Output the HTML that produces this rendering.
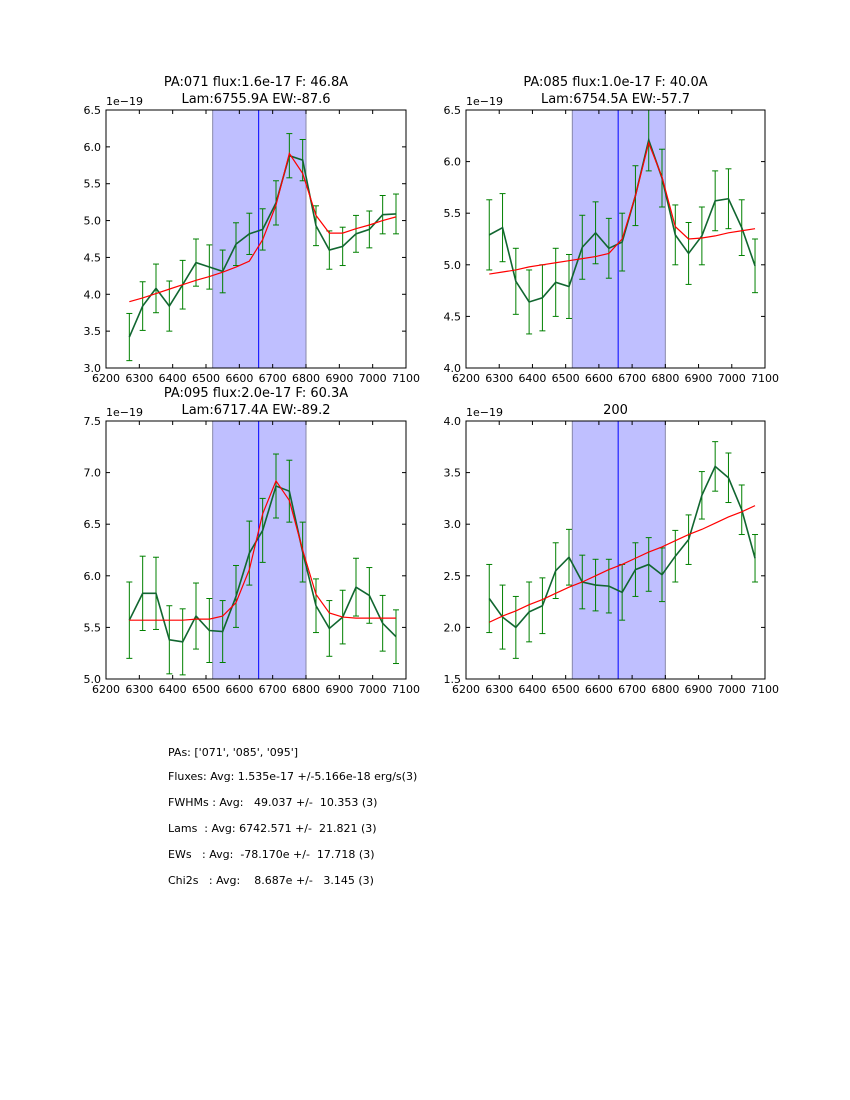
<!DOCTYPE html>
<html><head><meta charset="utf-8"><style>
body{margin:0;background:#fff;width:850px;height:1100px;overflow:hidden;font-family:"DejaVu Sans","Liberation Sans",sans-serif}
svg{position:absolute;left:0;top:0}
.info{position:absolute;left:168px;font-size:11px;white-space:pre;color:#000}
</style></head><body>
<svg id="fig" width="850" height="1100"></svg>
<div class="info" style="top:746px">PAs: ['071', '085', '095']</div>
<div class="info" style="top:770px">Fluxes: Avg: 1.535e-17 +/-5.166e-18 erg/s(3)</div>
<div class="info" style="top:796px">FWHMs : Avg:   49.037 +/-  10.353 (3)</div>
<div class="info" style="top:822px">Lams  : Avg: 6742.571 +/-  21.821 (3)</div>
<div class="info" style="top:848px">EWs   : Avg:  -78.170e +/-  17.718 (3)</div>
<div class="info" style="top:874px">Chi2s   : Avg:    8.687e +/-   3.145 (3)</div>
<script>
const wave=[6270,6310,6350,6390,6430,6470,6510,6550,6590,6630,6670,6710,6750,6790,6830,6870,6910,6950,6990,7030,7070];
const xTicks=[6200,6300,6400,6500,6600,6700,6800,6900,7000,7100];
const spanLo=6520, spanHi=6800, lineCenter=6658;
const flux1=[3.42,3.84,4.08,3.84,4.13,4.43,4.37,4.31,4.68,4.82,4.88,5.24,5.88,5.82,4.93,4.60,4.65,4.82,4.88,5.08,5.09];
const err1=[0.32,0.33,0.33,0.34,0.33,0.32,0.30,0.29,0.29,0.28,0.28,0.30,0.30,0.28,0.27,0.26,0.26,0.25,0.25,0.26,0.27];
const fit1=[3.90,3.95,4.01,4.07,4.13,4.19,4.24,4.30,4.37,4.45,4.74,5.21,5.91,5.64,5.07,4.83,4.83,4.89,4.94,5.00,5.05];
const flux2=[5.29,5.36,4.84,4.64,4.68,4.83,4.79,5.17,5.31,5.16,5.22,5.67,6.21,5.84,5.29,5.11,5.28,5.62,5.64,5.36,4.99];
const err2=[0.34,0.33,0.32,0.31,0.32,0.33,0.31,0.31,0.30,0.29,0.28,0.29,0.30,0.28,0.29,0.30,0.28,0.29,0.29,0.27,0.26];
const fit2=[4.91,4.93,4.95,4.98,5.00,5.02,5.04,5.06,5.08,5.11,5.25,5.67,6.18,5.85,5.37,5.25,5.26,5.28,5.31,5.33,5.35];
const flux3=[5.57,5.83,5.83,5.38,5.36,5.61,5.47,5.46,5.80,6.22,6.44,6.87,6.82,6.23,5.71,5.49,5.60,5.89,5.81,5.54,5.41];
const err3=[0.37,0.36,0.35,0.33,0.32,0.32,0.31,0.30,0.30,0.31,0.31,0.31,0.30,0.29,0.26,0.27,0.26,0.28,0.27,0.27,0.26];
const fit3=[5.57,5.57,5.57,5.57,5.57,5.58,5.58,5.61,5.74,6.06,6.60,6.92,6.73,6.25,5.82,5.64,5.60,5.59,5.59,5.59,5.59];
const flux4=[2.28,2.10,2.00,2.15,2.21,2.55,2.68,2.44,2.41,2.40,2.34,2.56,2.61,2.51,2.69,2.85,3.28,3.56,3.45,3.14,2.67];
const err4=[0.33,0.31,0.30,0.29,0.27,0.27,0.27,0.26,0.25,0.26,0.27,0.26,0.26,0.26,0.25,0.24,0.23,0.24,0.24,0.24,0.23];
const fit4=[2.05,2.11,2.16,2.22,2.27,2.33,2.39,2.44,2.50,2.56,2.61,2.67,2.73,2.78,2.84,2.90,2.95,3.01,3.07,3.12,3.18];
const yTicks1=["3.0","3.5","4.0","4.5","5.0","5.5","6.0","6.5"];
const yTicks2=["4.0","4.5","5.0","5.5","6.0","6.5"];
const yTicks3=["5.0","5.5","6.0","6.5","7.0","7.5"];
const yTicks4=["1.5","2.0","2.5","3.0","3.5","4.0"];
const NS="http://www.w3.org/2000/svg";
const svg=document.getElementById('fig');
function mk(tag,attrs,parent){const e=document.createElementNS(NS,tag);for(const k in attrs)e.setAttribute(k,attrs[k]);(parent||svg).appendChild(e);return e;}
function panel(id,L,T,W,H,yt,flux,err,fit,titles){
  const g=mk('g',{});
  
  
  const ymin=parseFloat(yt[0]),ymax=parseFloat(yt[yt.length-1]);
  const X=v=>L+(v-6200)/900*W, Y=v=>T+H-(v-ymin)/(ymax-ymin)*H;
  const cp='cp'+id;const c=mk('clipPath',{id:cp},g);mk('rect',{x:L,y:T,width:W,height:H},c);
  const sp=mk('rect',{x:X(spanLo),y:T,width:X(spanHi)-X(spanLo),height:H,fill:'#bfbfff',stroke:'#8888aa','stroke-width':1},g);
  
  
  const vl=mk('line',{x1:X(lineCenter),x2:X(lineCenter),y1:T,y2:T+H,stroke:'#0000ff','stroke-width':1},g);
  
  
  const eg=mk('g',{'clip-path':'url(#'+cp+')'},g);
  
  
  wave.forEach((w,i)=>{const x=X(w),y1=Y(flux[i]-err[i]),y2=Y(flux[i]+err[i]);
    mk('line',{x1:x,x2:x,y1:y1,y2:y2,stroke:'#008000','stroke-width':1},eg);
    mk('line',{x1:x-3,x2:x+3,y1:y1,y2:y1,stroke:'#008000','stroke-width':1},eg);
    mk('line',{x1:x-3,x2:x+3,y1:y2,y2:y2,stroke:'#008000','stroke-width':1},eg);});
  const dl=mk('polyline',{points:wave.map((w,i)=>X(w)+','+Y(flux[i])).join(' '),fill:'none',stroke:'#116630','stroke-width':1.6,'clip-path':'url(#'+cp+')'},g);
  
  
  const fl=mk('polyline',{points:wave.map((w,i)=>X(w)+','+Y(fit[i])).join(' '),fill:'none',stroke:'#ff0000','stroke-width':1.2,'clip-path':'url(#'+cp+')'},g);
  
  
  mk('rect',{x:L,y:T,width:W,height:H,fill:'none',stroke:'#000','stroke-width':1},g);
  xTicks.forEach(v=>{const x=X(v);
    mk('line',{x1:x,x2:x,y1:T+H,y2:T+H-4,stroke:'#000'},g);mk('line',{x1:x,x2:x,y1:T,y2:T+4,stroke:'#000'},g);
    const t=mk('text',{x:x,y:T+H+14,'font-size':11,'text-anchor':'middle'},g);t.textContent=v;
    
    });
  yt.forEach(s=>{const y=Y(parseFloat(s));
    mk('line',{x1:L,x2:L+4,y1:y,y2:y,stroke:'#000'},g);mk('line',{x1:L+W,x2:L+W-4,y1:y,y2:y,stroke:'#000'},g);
    const t=mk('text',{x:L-5,y:y+4,'font-size':11,'text-anchor':'end'},g);t.textContent=s;
    
    });
  const ex=mk('text',{x:L,y:T-5,'font-size':11},g);ex.textContent='1e\u221219';
  
  
  titles.forEach((s,i)=>{const t=mk('text',{x:L+W/2,y:T-24+i*17+(titles.length==1?17:0),'font-size':13,'text-anchor':'middle'},g);t.textContent=s;
    
    });
}
panel('panel-pa071',106,110,300,258,yTicks1,flux1,err1,fit1,['PA:071 flux:1.6e-17 F: 46.8A','Lam:6755.9A EW:-87.6']);
panel('panel-pa085',466,110,299,258,yTicks2,flux2,err2,fit2,['PA:085 flux:1.0e-17 F: 40.0A','Lam:6754.5A EW:-57.7']);
panel('panel-pa095',106,421,300,258,yTicks3,flux3,err3,fit3,['PA:095 flux:2.0e-17 F: 60.3A','Lam:6717.4A EW:-89.2']);
panel('panel-200',466,421,299,258,yTicks4,flux4,err4,fit4,['200']);
</script>
</body></html>
